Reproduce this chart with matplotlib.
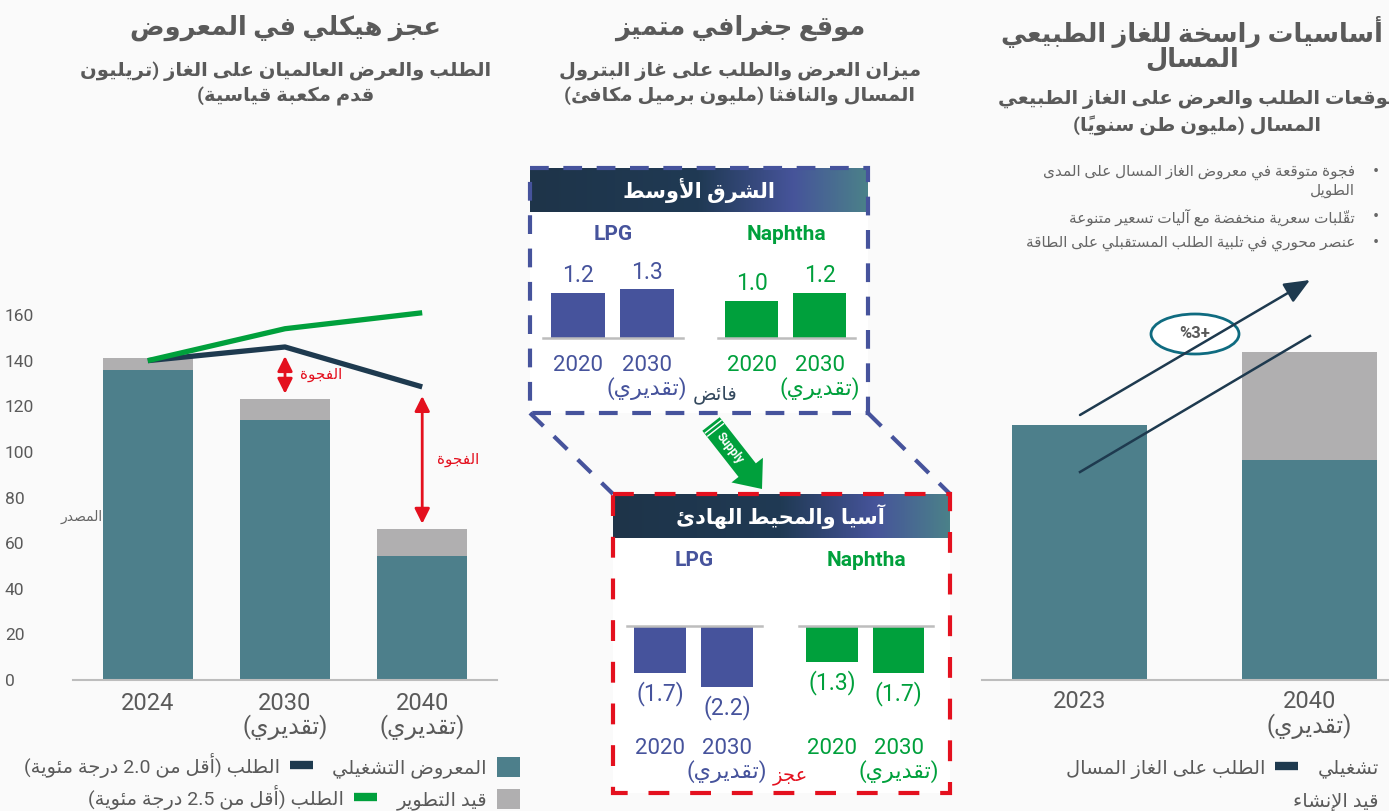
import numpy as np
import matplotlib
matplotlib.use("Agg")
import matplotlib.pyplot as plt
from matplotlib.lines import Line2D
from matplotlib.patches import Patch, Rectangle, Ellipse, FancyArrow
from matplotlib.colors import LinearSegmentedColormap

# ---------------- data ----------------
left_years = ['2024', '2030', '2040']
left_est = [False, True, True]
left_operating = [136, 114, 54.5]
left_under_dev = [5, 9, 11.5]
left_demand_20 = [140, 146, 128.5]
left_demand_25 = [140, 154, 161]
left_yticks = [0, 20, 40, 60, 80, 100, 120, 140, 160]

mid_years = ['2020', '2030']
mid_est = [False, True]
me_lpg = [1.2, 1.3]
me_naphtha = [1.0, 1.2]
ap_lpg = [-1.7, -2.2]
ap_naphtha = [-1.3, -1.7]

right_years = ['2023', '2040']
right_est = [False, True]
right_operating = [410, 354]
right_under_con = [0, 173]

EST = 'تقديري'

# ---------------- Arabic shaping (presentation forms + simple bidi) ----------------
_TAB = [('\u0621', 0xFE80, 1), ('\u0622', 0xFE81, 2), ('\u0623', 0xFE83, 2), ('\u0624', 0xFE85, 2),
        ('\u0625', 0xFE87, 2), ('\u0626', 0xFE89, 4), ('\u0627', 0xFE8D, 2), ('\u0628', 0xFE8F, 4),
        ('\u0629', 0xFE93, 2), ('\u062A', 0xFE95, 4), ('\u062B', 0xFE99, 4), ('\u062C', 0xFE9D, 4),
        ('\u062D', 0xFEA1, 4), ('\u062E', 0xFEA5, 4), ('\u062F', 0xFEA9, 2), ('\u0630', 0xFEAB, 2),
        ('\u0631', 0xFEAD, 2), ('\u0632', 0xFEAF, 2), ('\u0633', 0xFEB1, 4), ('\u0634', 0xFEB5, 4),
        ('\u0635', 0xFEB9, 4), ('\u0636', 0xFEBD, 4), ('\u0637', 0xFEC1, 4), ('\u0638', 0xFEC5, 4),
        ('\u0639', 0xFEC9, 4), ('\u063A', 0xFECD, 4), ('\u0641', 0xFED1, 4), ('\u0642', 0xFED5, 4),
        ('\u0643', 0xFED9, 4), ('\u0644', 0xFEDD, 4), ('\u0645', 0xFEE1, 4), ('\u0646', 0xFEE5, 4),
        ('\u0647', 0xFEE9, 4), ('\u0648', 0xFEED, 2), ('\u0649', 0xFEEF, 2), ('\u064A', 0xFEF1, 4)]
AR_FORMS = {c: (b, n) for c, b, n in _TAB}
LAM_ALEF = {'\u0622': 0xFEF5, '\u0623': 0xFEF7, '\u0625': 0xFEF9, '\u0627': 0xFEFB}
MIRROR = {'(': ')', ')': '('}


def _is_mark(c):
    return '\u064B' <= c <= '\u065F' or c == '\u0670'


def _jt(c):
    if c is None:
        return 'U'
    if c.startswith('LA'):
        return 'R'
    if c in AR_FORMS:
        n = AR_FORMS[c][1]
        return 'D' if n == 4 else ('R' if n == 2 else 'U')
    return 'U'


def _ltr(c):
    return c.isascii() and c.isalnum()


def _ar_line(s):
    clusters = []
    for c in s:
        if _is_mark(c) and clusters:
            clusters[-1][1] += c
        else:
            clusters.append([c, ''])
    merged = []
    i = 0
    while i < len(clusters):
        c, m = clusters[i]
        if c == '\u0644' and i + 1 < len(clusters) and clusters[i + 1][0] in LAM_ALEF:
            merged.append(['LA' + clusters[i + 1][0], m + clusters[i + 1][1]])
            i += 2
        else:
            merged.append([c, m])
            i += 1
    items = []
    for k, (c, m) in enumerate(merged):
        t = _jt(c)
        p = merged[k - 1][0] if k > 0 else None
        nx = merged[k + 1][0] if k + 1 < len(merged) else None
        cp = t in ('D', 'R') and _jt(p) == 'D'
        cn = t == 'D' and _jt(nx) in ('D', 'R')
        if c.startswith('LA'):
            g = chr(LAM_ALEF[c[2]] + (1 if cp else 0))
        elif c in AR_FORMS:
            base, n = AR_FORMS[c]
            if n == 4:
                off = 3 if (cp and cn) else (1 if cp else (2 if cn else 0))
            elif n == 2:
                off = 1 if cp else 0
            else:
                off = 0
            g = chr(base + off)
        else:
            g = c
        items.append((g + m, c))
    tokens = []
    k = 0
    while k < len(items):
        g, c = items[k]
        if _ltr(c):
            run = g
            k += 1
            while k < len(items):
                g2, c2 = items[k]
                if _ltr(c2) or (c2 == '.' and k + 1 < len(items) and _ltr(items[k + 1][1])):
                    run += g2
                    k += 1
                else:
                    break
            tokens.append(run)
        else:
            tokens.append(MIRROR.get(g, g))
            k += 1
    return ''.join(reversed(tokens))


def ar(s):
    return '\n'.join(_ar_line(l) for l in s.split('\n'))


# ---------------- style ----------------
plt.rcParams['font.family'] = ['Roboto', 'DejaVu Sans']
W, H = 1389, 811
BG = '#fafafa'
TEAL = '#4d7f8b'
GREY = '#b0afb0'
NAVY = '#1e3a4f'
GREEN = '#00a03c'
RED = '#e4101e'
BLUE = '#46539c'
TXT = '#5a5a5a'
BASE = '#bdbdbd'

fig = plt.figure(figsize=(W / 100, H / 100), dpi=100, facecolor=BG)


def add_ax(x0, y0, x1, y1, **kw):
    return fig.add_axes([x0 / W, 1 - y1 / H, (x1 - x0) / W, (y1 - y0) / H], **kw)


def F(x, y):
    return (x / W, 1 - y / H)


def year_labels(years, est):
    return [y + ('\n' + ar('(' + EST + ')') if e else '') for y, e in zip(years, est)]


def tight_lines(ax, ls):
    for lb in ax.get_xticklabels():
        lb.set_linespacing(ls)


bg = fig.add_axes([0, 0, 1, 1], zorder=-1)
bg.set_facecolor('none')
fg = fig.add_axes([0, 0, 1, 1], zorder=5)
fg.set_facecolor('none')

# ---------------- titles ----------------
fig.text(*F(286, 28), ar('عجز هيكلي في المعروض'), ha='center', va='center', fontsize=18.5,
         fontweight='bold', color=TXT)
fig.text(*F(740, 28), ar('موقع جغرافي متميز'), ha='center', va='center', fontsize=18.5,
         fontweight='bold', color=TXT)
fig.text(*F(1192, 44), ar('أساسيات راسخة للغاز الطبيعي\nالمسال'), ha='center', va='center',
         fontsize=18.5, fontweight='bold', color=TXT, linespacing=0.95)

for x, y, t in [(286, 84, 'الطلب والعرض العالميان على الغاز (تريليون\nقدم مكعبة قياسية)'),
                (740, 84, 'ميزان العرض والطلب على غاز البترول\nالمسال والنافثا (مليون برميل مكافئ)'),
                (1197, 113, 'توقعات الطلب والعرض على الغاز الطبيعي\nالمسال (مليون طن سنوياً)')]:
    fig.text(*F(x, y), ar(t), ha='center', va='center', fontsize=14, fontweight='bold', color=TXT,
             linespacing=1.38)

# ---------------- left chart ----------------
axL = add_ax(73, 680 - 165 * 2.281, 497, 680)
axL.set_facecolor('none')
xl = np.arange(len(left_years))
axL.bar(xl, left_operating, width=0.655, color=TEAL, zorder=2)
axL.bar(xl, left_under_dev, bottom=left_operating, width=0.655, color=GREY, zorder=2)
axL.plot(xl, left_demand_20, color=NAVY, lw=3.8, zorder=3, solid_capstyle='butt')
axL.plot(xl, left_demand_25, color=GREEN, lw=3.8, zorder=3, solid_capstyle='butt')
axL.set_xlim(-0.545, 2.545)
axL.set_ylim(0, 165)
axL.set_yticks(left_yticks)
axL.set_yticklabels([str(v) for v in left_yticks])
axL.tick_params(axis='y', length=0, pad=49, labelsize=12.5, labelcolor=TXT)
for lb in axL.get_yticklabels():
    lb.set_horizontalalignment('left')
axL.set_xticks(xl)
axL.set_xticklabels(year_labels(left_years, left_est))
axL.tick_params(axis='x', length=0, pad=8.5, labelsize=17, labelcolor=TXT)
tight_lines(axL, 1.0)
for s in ['top', 'right', 'left']:
    axL.spines[s].set_visible(False)
axL.spines['bottom'].set_color(BASE)
axL.spines['bottom'].set_linewidth(1.5)

for i in (1, 2):
    top = left_operating[i] + left_under_dev[i]
    lo, hi = top + 2.5, left_demand_20[i] - 4
    axL.annotate('', xy=(i, hi), xytext=(i, lo),
                 arrowprops=dict(arrowstyle='<|-|>,head_length=0.9,head_width=0.45',
                                 color=RED, lw=2, shrinkA=0, shrinkB=0), zorder=4)
    axL.annotate(ar('الفجوة'), xy=(i, (lo + hi) / 2), xytext=(11, 0), textcoords='offset points',
                 ha='left', va='center', fontsize=11, color=RED)

fig.text(*F(103, 517), ar('المصدر'), ha='right', va='center', fontsize=10, color='#666666')

h_navy = Line2D([], [], color=NAVY, lw=6, solid_capstyle='butt')
h_green = Line2D([], [], color=GREEN, lw=6, solid_capstyle='butt')
h_teal = Patch(facecolor=TEAL, edgecolor='none')
h_grey = Patch(facecolor=GREY, edgecolor='none')
leg_kw = dict(markerfirst=False, loc='center right', bbox_transform=fig.transFigure, frameon=False,
              fontsize=14, handlelength=1.2, handleheight=1.2, handletextpad=0.5, columnspacing=1.0,
              borderpad=0, borderaxespad=0, labelcolor=TXT)
fig.legend([h_navy, h_teal], [ar('الطلب (أقل من 2.0 درجة مئوية)'), ar('المعروض التشغيلي')],
           ncol=2, bbox_to_anchor=F(520, 766), **leg_kw)
fig.legend([h_green, h_grey], [ar('الطلب (أقل من 2.5 درجة مئوية)'), ar('قيد التطوير')],
           ncol=2, bbox_to_anchor=F(520, 798), **leg_kw)

# ---------------- middle panel ----------------
grad = LinearSegmentedColormap.from_list('hdr', [(0, '#1e3449'), (0.5, '#203a54'), (0.78, '#46549a'), (1, '#4b8189')])
gimg = np.linspace(0, 1, 256)[None, :]
for (x0, y0, x1, y1, hy) in [(530, 168, 868, 413, 212), (613, 494, 950, 793, 538)]:
    bg.add_patch(Rectangle((x0, y0), x1 - x0, y1 - y0, facecolor='white', edgecolor='none'))
    bg.imshow(gimg, cmap=grad, extent=(x0, x1, hy, y0), aspect='auto', zorder=2)

bg.plot([530, 613], [413, 494], color=BLUE, lw=3, ls=(0, (4.5, 3.5)))
bg.plot([868, 950], [413, 494], color=BLUE, lw=3, ls=(0, (4.5, 3.5)))

fg.add_patch(Rectangle((530, 168), 338, 245, fill=False, edgecolor=BLUE, lw=3, ls=(0, (4.5, 3.5))))
fg.add_patch(Rectangle((613, 494), 337, 299, fill=False, edgecolor=RED, lw=3, ls=(0, (5, 5))))
fg.text(699, 190, ar('الشرق الأوسط'), ha='center', va='center', fontsize=15, fontweight='bold', color='white')
fg.text(781, 517, ar('آسيا والمحيط الهادئ'), ha='center', va='center', fontsize=15, fontweight='bold', color='white')
fg.text(715, 395, ar('فائض'), ha='center', va='center', fontsize=14, color='#34495e')
fg.text(790, 776, ar('عجز'), ha='center', va='center', fontsize=14, color=RED)


def mini(x0, x1, top_base, vals, color, name, neg):
    xm = np.arange(len(vals))
    if neg:
        ax = add_ax(x0, top_base, x1, top_base + 3.5 * 27.8)
        ax.set_ylim(-3.5, 0)
    else:
        ax = add_ax(x0, top_base - 2.2 * 37.5, x1, top_base)
        ax.set_ylim(0, 2.2)
    ax.set_facecolor('none')
    bars = ax.bar(xm, vals, width=0.78, color=color)
    labs = [f'({abs(v):.1f})' if v < 0 else f'{v:.1f}' for v in vals]
    ax.bar_label(bars, labels=labs, padding=(5.5 if neg else 4), fontsize=16.5, color=color)
    ax.set_xlim(-0.5, 1.52)
    ax.set_yticks([])
    ax.set_xticks(xm)
    ax.set_xticklabels(year_labels(mid_years, mid_est))
    ax.tick_params(axis='x', length=0, pad=(10.5 if neg else 12), labelsize=16, labelcolor=color)
    tight_lines(ax, 1.05)
    for s in ax.spines:
        ax.spines[s].set_visible(False)
    bs = 'top' if neg else 'bottom'
    ax.spines[bs].set_visible(True)
    ax.spines[bs].set_color(BASE)
    ax.spines[bs].set_linewidth(1.8)
    ax.set_title(name, color=color, fontsize=15, fontweight='bold', pad=(43 if neg else 11))
    return ax


mini(543, 683, 338, me_lpg, BLUE, 'LPG', False)
mini(718, 855, 338, me_naphtha, GREEN, 'Naphtha', False)
mini(627, 762, 626, ap_lpg, BLUE, 'LPG', True)
mini(799, 933, 626, ap_naphtha, GREEN, 'Naphtha', True)

tail = np.array([711.0, 424.0])
tip = np.array([762.0, 489.0])
d = tip - tail
u = d / np.hypot(*d)
v = np.array([-u[1], u[0]])
fg.add_patch(FancyArrow(tail[0], tail[1], d[0], d[1], width=22, head_width=40, head_length=24,
                        length_includes_head=True, color=GREEN, lw=0))
for dd in (3.5, 7.5):
    c = tail + u * dd
    p1, p2 = c + v * 10, c - v * 10
    fg.plot([p1[0], p2[0]], [p1[1], p2[1]], color='white', lw=1.0)
mid = tail + u * 31
fg.text(mid[0], mid[1], 'Supply', rotation=-np.degrees(np.arctan2(d[1], d[0])), ha='center', va='center',
        fontsize=8.5, fontweight='bold', color='white', rotation_mode='anchor')

# ---------------- right panel ----------------
bullets = [(172, 'فجوة متوقعة في معروض الغاز المسال على المدى', True),
           (191, 'الطويل', False),
           (217, 'تقلّبات سعرية منخفضة مع آليات تسعير متنوعة', True),
           (243, 'عنصر محوري في تلبية الطلب المستقبلي على الطاقة', True)]
for y, t, b in bullets:
    fig.text(*F(1355, y), ar(t), ha='right', va='center', fontsize=11, color='#666666')
    if b:
        fig.text(*F(1376, y), '•', ha='center', va='center', fontsize=13, color='#666666')

axR = add_ax(982, 680 - 560 * 0.622, 1389, 680)
axR.set_facecolor('none')
xr = np.arange(len(right_years))
axR.bar(xr, right_operating, width=0.587, color=TEAL)
axR.bar(xr, right_under_con, bottom=right_operating, width=0.587, color=GREY)
axR.set_xlim(-0.424, 1.346)
axR.set_ylim(0, 560)
axR.set_yticks([])
axR.set_xticks(xr)
axR.set_xticklabels(year_labels(right_years, right_est))
axR.tick_params(axis='x', length=0, pad=7.5, labelsize=17, labelcolor=TXT)
tight_lines(axR, 1.0)
for s in ['top', 'right', 'left']:
    axR.spines[s].set_visible(False)
axR.spines['bottom'].set_color(BASE)
axR.spines['bottom'].set_linewidth(1.5)

fg.annotate('', xy=(1310, 280), xytext=(1080, 415),
            arrowprops=dict(arrowstyle='-|>,head_length=1.3,head_width=0.55', color=NAVY, lw=1.8,
                            shrinkA=0, shrinkB=0, mutation_scale=12))
fg.plot([1080, 1310], [472, 336], color=NAVY, lw=1.8)
fg.add_patch(Ellipse((1195, 334), 88, 40, facecolor='white', edgecolor='#0f6b80', lw=2))
fg.text(1195, 334, '%3+', ha='center', va='center', fontsize=12, fontweight='bold', color=TXT)

fig.legend([h_navy, h_teal], [ar('الطلب على الغاز المسال'), ar('تشغيلي')],
           ncol=2, bbox_to_anchor=F(1412, 768), **leg_kw)
fig.legend([h_grey], [ar('قيد الإنشاء')], ncol=1, bbox_to_anchor=F(1412, 801), **leg_kw)

for a in (bg, fg):
    a.set_xlim(0, W)
    a.set_ylim(H, 0)
    a.axis('off')

fig.savefig('out.png', dpi=100, facecolor=BG)
